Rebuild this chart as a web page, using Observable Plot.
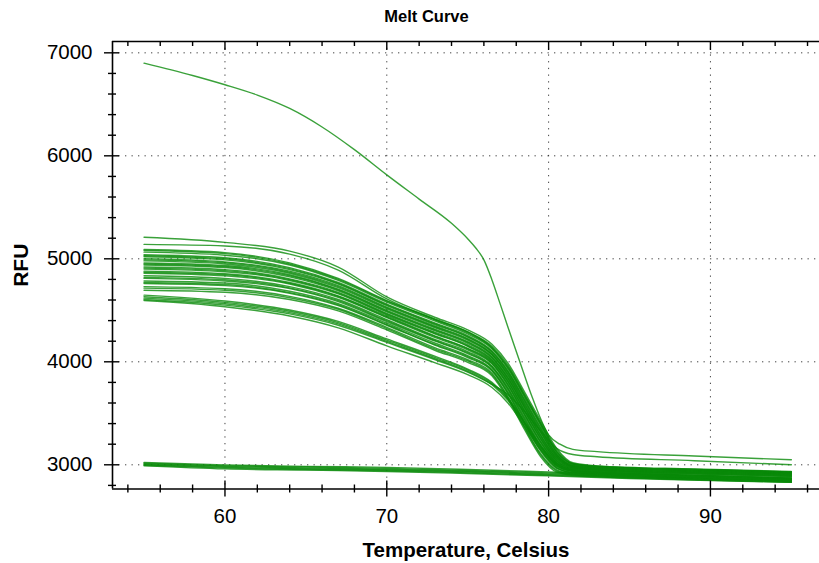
<!DOCTYPE html>
<html><head><meta charset="utf-8">
<script src="https://cdn.jsdelivr.net/npm/d3@7"></script>
<script src="https://cdn.jsdelivr.net/npm/@observablehq/plot@0.6"></script>
<style>body{margin:0;background:#fff}</style>
</head><body><div id="chart"></div>
<script>
const title = "Melt Curve";
const xLabel = "Temperature, Celsius";
const yLabel = "RFU";

const temps = [55, 60, 64, 67, 70, 73, 75, 76.5, 77.5, 78.5, 79.5, 80.5, 81.5, 83, 89, 95];
const mainCurves = [
  [5210, 5160, 5075, 4920, 4630, 4430, 4310, 4170, 3985, 3710, 3430, 3160, 3020, 2990, 2960, 2935],
  [5140, 5125, 5045, 4890, 4610, 4410, 4290, 4150, 3965, 3690, 3410, 3145, 3012, 2985, 2955, 2930],
  [5090, 5060, 4960, 4810, 4595, 4415, 4290, 4140, 3950, 3680, 3405, 3130, 3010, 2985, 2955, 2930],
  [5080, 5050, 4950, 4800, 4590, 4405, 4280, 4135, 3940, 3670, 3395, 3125, 3008, 2983, 2952, 2928],
  [5065, 5035, 4940, 4790, 4580, 4395, 4270, 4125, 3930, 3660, 3385, 3120, 3005, 2980, 2950, 2925],
  [5040, 5010, 4915, 4770, 4560, 4375, 4255, 4105, 3910, 3640, 3365, 3105, 2995, 2975, 2945, 2920],
  [5030, 5000, 4905, 4762, 4552, 4368, 4245, 4098, 3902, 3630, 3355, 3100, 2993, 2972, 2942, 2918],
  [5020, 4990, 4895, 4755, 4545, 4360, 4240, 4090, 3895, 3620, 3345, 3095, 2990, 2970, 2940, 2915],
  [5000, 4970, 4880, 4740, 4530, 4345, 4225, 4075, 3880, 3605, 3330, 3085, 2985, 2965, 2935, 2910],
  [4990, 4962, 4870, 4730, 4523, 4338, 4218, 4070, 3870, 3595, 3322, 3080, 2983, 2962, 2932, 2908],
  [4980, 4950, 4860, 4720, 4515, 4330, 4210, 4065, 3860, 3585, 3315, 3075, 2980, 2960, 2930, 2905],
  [4960, 4935, 4845, 4705, 4500, 4315, 4195, 4050, 3845, 3570, 3295, 3065, 2975, 2955, 2925, 2900],
  [4950, 4925, 4835, 4698, 4493, 4307, 4188, 4042, 3838, 3562, 3288, 3060, 2972, 2952, 2922, 2898],
  [4940, 4915, 4825, 4690, 4485, 4300, 4180, 4035, 3830, 3555, 3280, 3055, 2970, 2950, 2920, 2895],
  [4920, 4895, 4805, 4675, 4470, 4285, 4165, 4020, 3815, 3535, 3265, 3045, 2965, 2945, 2915, 2890],
  [4910, 4885, 4798, 4666, 4463, 4276, 4155, 4014, 3806, 3527, 3256, 3040, 2962, 2942, 2912, 2888],
  [4900, 4875, 4790, 4660, 4455, 4270, 4150, 4005, 3800, 3520, 3250, 3035, 2960, 2940, 2910, 2885],
  [4880, 4855, 4770, 4640, 4445, 4250, 4130, 3995, 3780, 3500, 3230, 3025, 2950, 2930, 2900, 2875],
  [4870, 4846, 4762, 4634, 4436, 4244, 4125, 3986, 3774, 3493, 3223, 3020, 2948, 2928, 2898, 2873],
  [4860, 4835, 4755, 4625, 4430, 4235, 4115, 3980, 3765, 3485, 3215, 3015, 2945, 2925, 2895, 2870],
  [4835, 4810, 4730, 4605, 4410, 4215, 4100, 3960, 3745, 3465, 3195, 3000, 2940, 2920, 2890, 2865],
  [4820, 4797, 4718, 4594, 4399, 4206, 4088, 3951, 3734, 3450, 3184, 2995, 2937, 2917, 2887, 2862],
  [4810, 4785, 4710, 4585, 4390, 4200, 4080, 3945, 3725, 3440, 3175, 2990, 2935, 2915, 2885, 2860],
  [4785, 4765, 4685, 4565, 4375, 4180, 4060, 3925, 3705, 3420, 3155, 2975, 2925, 2910, 2880, 2855],
  [4770, 4750, 4672, 4554, 4362, 4167, 4050, 3917, 3694, 3410, 3144, 2970, 2922, 2905, 2875, 2850],
  [4760, 4740, 4665, 4545, 4355, 4160, 4040, 3910, 3685, 3400, 3135, 2965, 2920, 2900, 2870, 2845],
  [4730, 4710, 4635, 4520, 4335, 4135, 4020, 3890, 3660, 3375, 3110, 2950, 2910, 2895, 2865, 2840],
  [4715, 4695, 4622, 4510, 4322, 4123, 4008, 3878, 3650, 3362, 3097, 2942, 2905, 2890, 2860, 2836],
  [4695, 4675, 4605, 4495, 4310, 4110, 3995, 3865, 3635, 3345, 3080, 2930, 2900, 2885, 2855, 2830]
];
const lowCurves = [
  [4647, 4590, 4503, 4392, 4222, 4052, 3930, 3800, 3645, 3420, 3190, 3012, 2952, 2932, 2897, 2862],
  [4632, 4577, 4491, 4381, 4210, 4040, 3920, 3790, 3635, 3410, 3180, 3006, 2948, 2928, 2893, 2858],
  [4618, 4563, 4478, 4368, 4198, 4028, 3908, 3778, 3623, 3398, 3168, 2999, 2944, 2924, 2889, 2854],
  [4595, 4535, 4445, 4330, 4155, 3990, 3875, 3750, 3598, 3375, 3148, 2986, 2937, 2917, 2882, 2847]
];
const lateTailCurve = [4605, 4550, 4465, 4355, 4188, 4020, 3900, 3780, 3680, 3520, 3330, 3160, 3100, 3078, 3040, 3000];

const outlierTemps = [55, 58, 60, 62, 64, 66, 68, 70, 72, 74, 75, 75.5, 76, 76.5, 77, 77.5, 78.2, 79, 80, 80.7, 81.5, 83, 89, 95];
const outlierRFU = [6900, 6780, 6690, 6590, 6460, 6280, 6060, 5815, 5580, 5345, 5195, 5105, 4990, 4795, 4565, 4330, 4010, 3650, 3290, 3200, 3150, 3128, 3085, 3049];

const flatTemps = [55, 60, 65, 70, 75, 80, 85, 90, 95];
const flatCurves = [
  [3022, 2998, 2985, 2975, 2955, 2930, 2905, 2885, 2865],
  [3015, 2990, 2978, 2965, 2945, 2920, 2895, 2875, 2855],
  [3008, 2983, 2970, 2957, 2938, 2912, 2888, 2866, 2848],
  [3000, 2975, 2962, 2950, 2930, 2905, 2880, 2860, 2840],
  [2995, 2968, 2955, 2942, 2922, 2898, 2873, 2852, 2834],
  [2990, 2960, 2948, 2935, 2915, 2892, 2867, 2847, 2830]
];

const xDomain = [53.05, 96.74];
const yDomain = [2765, 7110];
const xMajor = [60, 70, 80, 90];
const xMinor = [54, 56, 58, 62, 64, 66, 68, 72, 74, 76, 78, 82, 84, 86, 88, 92, 94, 96];
const yMajor = [3000, 4000, 5000, 6000, 7000];
const yMinor = [2800, 3200, 3400, 3600, 3800, 4200, 4400, 4600, 4800, 5200, 5400, 5600, 5800, 6200, 6400, 6600, 6800];

const rows = [];
let id = 0;
function addCurve(ts, vs) { id++; ts.forEach((t, i) => rows.push({id, t, v: vs[i]})); }
flatCurves.forEach(c => addCurve(flatTemps, c));
mainCurves.forEach(c => addCurve(temps, c));
lowCurves.forEach(c => addCurve(temps, c));
addCurve(temps, lateTailCurve);
addCurve(outlierTemps, outlierRFU);

const blank = () => "";
const plot = Plot.plot({
  width: 819, height: 563,
  marginLeft: 112, marginRight: 0, marginTop: 41, marginBottom: 74.5,
  style: {fontFamily: '"Liberation Sans", Arial, sans-serif', fontSize: "20.5px", color: "#000", background: "#fff"},
  x: {domain: xDomain, label: null},
  y: {domain: yDomain, label: null},
  marks: [
    Plot.gridX(xMajor, {stroke: "#222", strokeOpacity: 0.85, strokeDasharray: "1.3,5.4"}),
    Plot.gridY(yMajor, {stroke: "#222", strokeOpacity: 0.85, strokeDasharray: "1.3,5.2"}),
    Plot.line(rows, {x: "t", y: "v", z: "id", stroke: "#098a09", strokeWidth: 1.4, strokeOpacity: 0.8, curve: "monotone-x"}),
    Plot.ruleX([xDomain[0]], {stroke: "#000", strokeWidth: 1.6}),
    Plot.ruleY([yDomain[0]], {stroke: "#000", strokeWidth: 1.6}),
    Plot.ruleY([yDomain[1]], {stroke: "#000", strokeWidth: 1.6}),
    Plot.axisY(yMajor, {anchor: "left", tickSize: 15, dx: 7, tickFormat: blank, label: null, strokeWidth: 1.4}),
    Plot.axisY(yMinor, {anchor: "left", tickSize: 8, dx: 4, tickFormat: blank, label: null, strokeWidth: 1.4}),
    Plot.axisY(yMajor, {anchor: "left", tickSize: 0, tickPadding: 20, label: null, tickFormat: d => String(d)}),
    Plot.axisX(xMajor, {anchor: "bottom", tickSize: 16, dy: -8, tickFormat: blank, label: null, strokeWidth: 1.4}),
    Plot.axisX(xMinor, {anchor: "bottom", tickSize: 8, dy: -4, tickFormat: blank, label: null, strokeWidth: 1.4}),
    Plot.axisX(xMajor, {anchor: "bottom", tickSize: 0, tickPadding: 19.5, label: null, tickFormat: d => String(d)}),
    Plot.axisX(xMajor, {anchor: "top", tickSize: 8, dy: 8, tickFormat: blank, label: null, strokeWidth: 1.4}),
    Plot.axisX(xMinor, {anchor: "top", tickSize: 4, dy: 4, tickFormat: blank, label: null, strokeWidth: 1.4}),
    Plot.text([yLabel], {text: d => d, frameAnchor: "left", dx: -91, rotate: -90, textAnchor: "middle", lineAnchor: "middle", fontWeight: "bold", fontSize: 21}),
    Plot.text([xLabel], {text: d => d, frameAnchor: "bottom", dy: 53, lineAnchor: "top", fontWeight: "bold", fontSize: 20.5}),
    Plot.text([title], {text: d => d, frameAnchor: "top", dx: -39.5, dy: -31, lineAnchor: "top", fontWeight: "bold", fontSize: 16.5})
  ]
});
document.getElementById("chart").appendChild(plot);
</script>
</body></html>
